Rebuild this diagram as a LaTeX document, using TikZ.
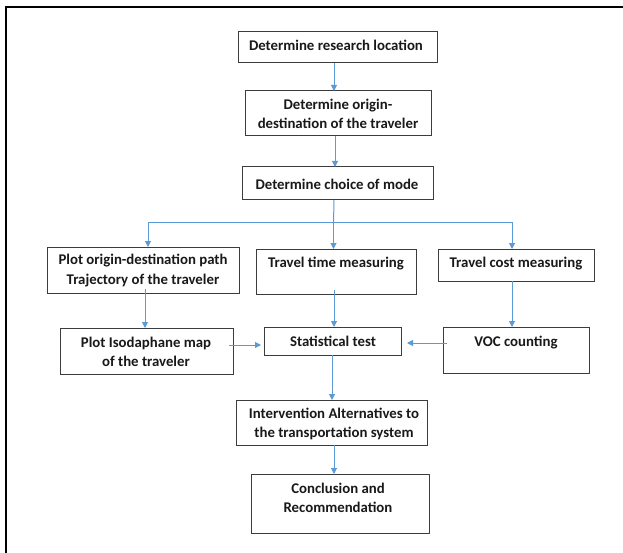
\documentclass[tikz,border=0pt]{standalone}
\usepackage{fontspec}
\setmainfont{Carlito}
\usetikzlibrary{arrows.meta,calc}
\definecolor{arrowblue}{RGB}{91,155,213}
\definecolor{boxline}{RGB}{60,60,60}
\definecolor{txtcol}{RGB}{25,25,25}
\begin{document}
\begin{tikzpicture}[x=1pt,y=-1pt,
  box/.style={draw=boxline,line width=1pt,anchor=north west,inner sep=0pt,outer sep=0pt},
  txt/.style={font=\fontsize{14.8}{19.5}\selectfont\bfseries,text=txtcol,align=center,inner sep=0pt},
  conn/.style={draw=arrowblue,line width=1pt},
  arr/.style={conn,-{Triangle[length=6pt,width=6pt]}}]
\useasboundingbox (0,0) rectangle (623,553);
\fill[white] (0,0) rectangle (623,553);
% outer frame
\draw[line width=2pt,black] (6,553) -- (6,7) -- (623,7);
% boxes
\node[box,minimum width=199pt,minimum height=31pt] (b1) at (238,32) {};
\node[box,minimum width=186pt,minimum height=45pt] (b2) at (245,91) {};
\node[box,minimum width=191pt,minimum height=33pt] (b3) at (242,167) {};
\node[box,minimum width=192pt,minimum height=46pt] (b4) at (47,247) {};
\node[box,minimum width=160pt,minimum height=45pt] (b5) at (256,249) {};
\node[box,minimum width=156pt,minimum height=32pt] (b6) at (438,249) {};
\node[box,minimum width=173pt,minimum height=46pt] (b7) at (60,328) {};
\node[box,minimum width=137pt,minimum height=28pt] (b8) at (264,327) {};
\node[box,minimum width=146pt,minimum height=46pt] (b9) at (443,327) {};
\node[box,minimum width=191pt,minimum height=45pt] (b10) at (236,400) {};
\node[box,minimum width=178pt,minimum height=59pt] (b11) at (251,474) {};
% texts
\node[txt] (t1) at (336,45) {Determine research location};
\node[txt] (t2) at (338,114) {Determine origin-\\destination of the traveler};
\node[txt] (t3) at (337,184) {Determine choice of mode};
\node[txt] (t4) at (143,270.5) {Plot origin-destination path\\Trajectory of the traveler};
\node[txt] (t5) at (336,264) {Travel time measuring};
\node[txt] (t6) at (516,264) {Travel cost measuring};
\node[txt] (t7) at (146,352) {Plot Isodaphane map\\of the traveler};
\node[txt] (t8) at (333,341) {Statistical test};
\node[txt] (t9) at (516,343) {VOC counting};
\node[txt] (t10) at (334,424) {Intervention Alternatives to\\the transportation system};
\node[txt] (t11) at (338,498) {Conclusion and\\Recommendation};
% connectors
\coordinate (j) at ([xshift=-4pt]b3.south |- 0,223);
\draw[arr] ([xshift=-3.5pt]b1.south) -- ([xshift=-3.5pt]b1.south |- b2.north);
\draw[arr] ([xshift=-3pt]b2.south) -- ([xshift=-3pt]b2.south |- b3.north);
\draw[conn] ([xshift=-3.5pt]b3.south) -- (j);
\draw[arr] (j) -- (j |- b5.north);
\draw[arr] (j) -| ([xshift=5pt]b4.north);
\draw[arr] (j) -| ([xshift=-4pt]b6.north);
\draw[arr] ([xshift=2pt,yshift=4pt]b4.south) -- ([xshift=2pt]b4.south |- b7.north);
\draw[arr] ([xshift=-2pt,yshift=4pt]b5.south) -- ([xshift=-2pt]b5.south |- b8.north);
\draw[arr] ([xshift=-4pt]b6.south) -- ([xshift=-4pt]b6.south |- b9.north);
\draw[arr] ([xshift=-4pt]b7.east |- 0,345) -- ([xshift=-3pt]b8.west |- 0,345);
\draw[arr] ([xshift=4pt]b9.west |- 0,343) -- ([xshift=6pt]b8.east |- 0,343);
\draw[arr] ([xshift=-0.5pt]b8.south) -- ([xshift=-0.5pt]b8.south |- b10.north);
\draw[arr] ([xshift=2.5pt]b10.south) -- ([xshift=2.5pt]b10.south |- b11.north);
\end{tikzpicture}
\end{document}
